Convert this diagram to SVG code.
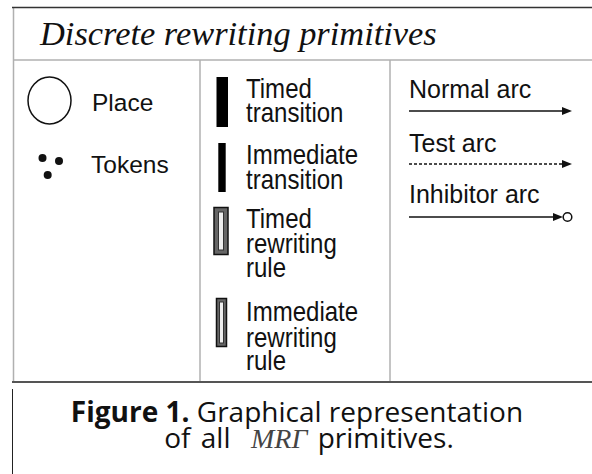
<svg xmlns="http://www.w3.org/2000/svg" width="592" height="474" viewBox="0 0 592 474">
<defs>
<style>
.lbl{font-family:"Liberation Sans",Arial,sans-serif;font-size:24.5px;fill:#111}
.mid{font-family:"Liberation Sans",Arial,sans-serif;font-size:27px;fill:#111}
.rt{font-family:"Liberation Sans",Arial,sans-serif;font-size:25px;fill:#111}
.title{font-family:"Liberation Serif","Times New Roman",serif;font-style:italic;font-size:34.4px;fill:#111}
.cap{font-family:"Open Sans","Noto Sans",sans-serif;font-size:28px;fill:#111}
.grid{stroke:#b0b0b0;stroke-width:1.5;fill:none}
.arc{stroke:#111;stroke-width:1.5;fill:none}
</style>
<marker id="ah" viewBox="0 0 10 8" refX="0" refY="4" markerWidth="10" markerHeight="8" markerUnits="userSpaceOnUse" orient="auto">
<path d="M0,0 L10,4 L0,8 Z" fill="#111"/>
</marker>
</defs>
<rect width="592" height="474" fill="#fff"/>
<g id="frame">
<line class="grid" x1="13.5" y1="7" x2="13.5" y2="382"/>
<line class="grid" x1="13" y1="60" x2="592" y2="60"/>
<line class="grid" x1="200" y1="60" x2="200" y2="382"/>
<line class="grid" x1="390" y1="60" x2="390" y2="382"/>
<line x1="12" y1="7.5" x2="592" y2="7.5" stroke="#333" stroke-width="1.5"/>
<line x1="12" y1="382" x2="592" y2="382" stroke="#555" stroke-width="2"/>
<line x1="12.5" y1="389" x2="12.5" y2="474" stroke="#222" stroke-width="1"/>
<text class="title" x="40" y="44.5">Discrete rewriting primitives</text>
</g>
<g id="place">
<ellipse cx="49.5" cy="100.5" rx="21.5" ry="23.5" fill="none" stroke="#111" stroke-width="1.5"/>
<text class="lbl" x="92" y="110.5">Place</text>
</g>
<g id="tokens">
<circle cx="42.5" cy="158" r="4" fill="#111"/>
<circle cx="59" cy="161" r="4" fill="#111"/>
<circle cx="47.7" cy="175" r="4" fill="#111"/>
<text class="lbl" x="91" y="173">Tokens</text>
</g>
<g id="timed-transition">
<rect x="216.5" y="77" width="11.5" height="50" fill="#000"/>
<text class="mid" transform="translate(246,98) scale(0.89,1)">Timed</text>
<text class="mid" transform="translate(246,122) scale(0.89,1)">transition</text>
</g>
<g id="immediate-transition">
<rect x="218.3" y="143" width="7.4" height="49" fill="#000"/>
<text class="mid" transform="translate(246,164) scale(0.89,1)">Immediate</text>
<text class="mid" transform="translate(246,189) scale(0.89,1)">transition</text>
</g>
<g id="timed-rewriting-rule">
<rect x="214" y="207.5" width="14" height="47" fill="#666" stroke="#111" stroke-width="1.5"/>
<rect x="218.5" y="212" width="5" height="38" fill="#eee" stroke="#333" stroke-width="1"/>
<text class="mid" transform="translate(246,228) scale(0.89,1)">Timed</text>
<text class="mid" transform="translate(246,253) scale(0.89,1)">rewriting</text>
<text class="mid" transform="translate(246,277) scale(0.89,1)">rule</text>
</g>
<g id="immediate-rewriting-rule">
<rect x="216.5" y="298.5" width="10" height="48" fill="#666" stroke="#111" stroke-width="1.5"/>
<rect x="219.5" y="302" width="4" height="41" fill="#eee" stroke="#333" stroke-width="1"/>
<text class="mid" transform="translate(246,321) scale(0.89,1)">Immediate</text>
<text class="mid" transform="translate(246,347) scale(0.89,1)">rewriting</text>
<text class="mid" transform="translate(246,370) scale(0.89,1)">rule</text>
</g>
<g id="arc-labels">
<text class="rt" x="409" y="97.5">Normal arc</text>
<text class="rt" x="409" y="152">Test arc</text>
<text class="rt" x="409" y="203">Inhibitor arc</text>
</g>
<g id="connectors">
<line class="arc" x1="409" y1="111" x2="562" y2="111" marker-end="url(#ah)"/>
<line class="arc" x1="409" y1="164" x2="562" y2="164" stroke-dasharray="3,2" marker-end="url(#ah)"/>
<line class="arc" x1="409" y1="217" x2="553" y2="217" marker-end="url(#ah)"/>
<circle cx="567.5" cy="217" r="4.3" fill="#fff" stroke="#111" stroke-width="1.5"/>
</g>
<g id="caption">
<text class="cap" x="297" y="422" text-anchor="middle"><tspan font-weight="bold">Figure 1.</tspan> Graphical representation</text>
<text class="cap" x="309" y="448" text-anchor="middle" word-spacing="3" xml:space="preserve">of all  <tspan font-family="'Liberation Serif',serif" font-style="italic" fill="#444">MRΓ</tspan> primitives.</text>
</g>
</svg>
